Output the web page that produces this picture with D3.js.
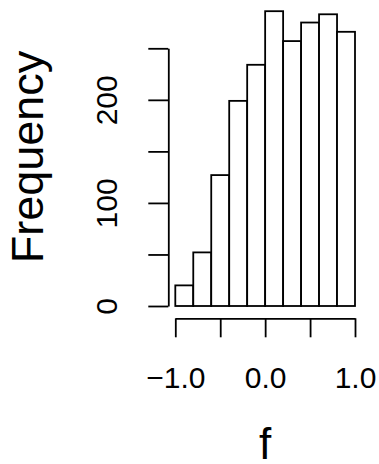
<!DOCTYPE html>
<html>
<head>
<meta charset="utf-8">
<script src="https://cdn.jsdelivr.net/npm/d3@7"></script>
<style>
  body { margin: 0; background: #fff; }
  svg text { font-family: "Liberation Sans", Arial, sans-serif; fill: #000; }
</style>
</head>
<body>
<svg width="379" height="464"></svg>
<script>
// histogram of f, breaks every 0.2
const breaks = [-1.0, -0.8, -0.6, -0.4, -0.2, 0.0, 0.2, 0.4, 0.6, 0.8, 1.0];
const counts = [20, 52, 127, 199, 234, 286, 257, 275, 283, 266];
const xTicks = [-1.0, -0.5, 0.0, 0.5, 1.0];
const xLabels = ['\u22121.0', '', '0.0', '', '1.0'];
const yTicks = [0, 50, 100, 150, 200, 250];
const yLabels = ['0', '', '100', '', '200', ''];

const svg = d3.select('svg');

const bins = counts.map((c, i) => ({x0: breaks[i], x1: breaks[i + 1], count: c}));

const xScale = d3.scaleLinear()
  .domain([-1, 1])
  .range([175.3, 355]);

const yScale = d3.scaleLinear()
  .domain([0, 250])
  .range([306, 48.3]);

// bars
svg.append('g')
  .selectAll('rect')
  .data(bins)
  .join('rect')
    .attr('x', d => xScale(d.x0))
    .attr('y', d => yScale(d.count))
    .attr('width', d => xScale(d.x1) - xScale(d.x0))
    .attr('height', d => yScale(0) - yScale(d.count))
    .attr('fill', '#fff')
    .attr('stroke', '#000')
    .attr('stroke-width', 1.8);

// x axis
const xAxis = svg.append('g')
  .attr('transform', 'translate(0, 318.3)')
  .call(d3.axisBottom(xScale)
    .tickValues(xTicks)
    .tickSize(19)
    .tickSizeOuter(0)
    .tickFormat((d, i) => xLabels[i]));

xAxis.selectAll('path, line')
  .attr('stroke', '#000')
  .attr('stroke-width', 1.8);
xAxis.selectAll('text')
  .attr('y', 69.7)
  .attr('dy', null)
  .style('font-size', '30px');

// y axis
const yAxis = svg.append('g')
  .attr('transform', 'translate(168.3, 0)')
  .call(d3.axisLeft(yScale)
    .tickValues(yTicks)
    .tickSize(20)
    .tickSizeOuter(0)
    .tickFormat((d, i) => yLabels[i]));

yAxis.selectAll('path, line')
  .attr('stroke', '#000')
  .attr('stroke-width', 1.8);
yAxis.selectAll('text')
  .attr('x', null)
  .attr('dy', null)
  .attr('text-anchor', 'middle')
  .attr('transform', 'translate(-51.3, 0) rotate(-90)')
  .style('font-size', '30px');

svg.selectAll('.domain').attr('fill', 'none');

// axis titles
svg.append('text')
  .text('f')
  .attr('x', 265)
  .attr('y', 459)
  .attr('text-anchor', 'middle')
  .style('font-size', '44px');

svg.append('text')
  .text('Frequency')
  .attr('transform', 'translate(43, 157) rotate(-90)')
  .attr('text-anchor', 'middle')
  .style('font-size', '45px');
</script>
</body>
</html>
